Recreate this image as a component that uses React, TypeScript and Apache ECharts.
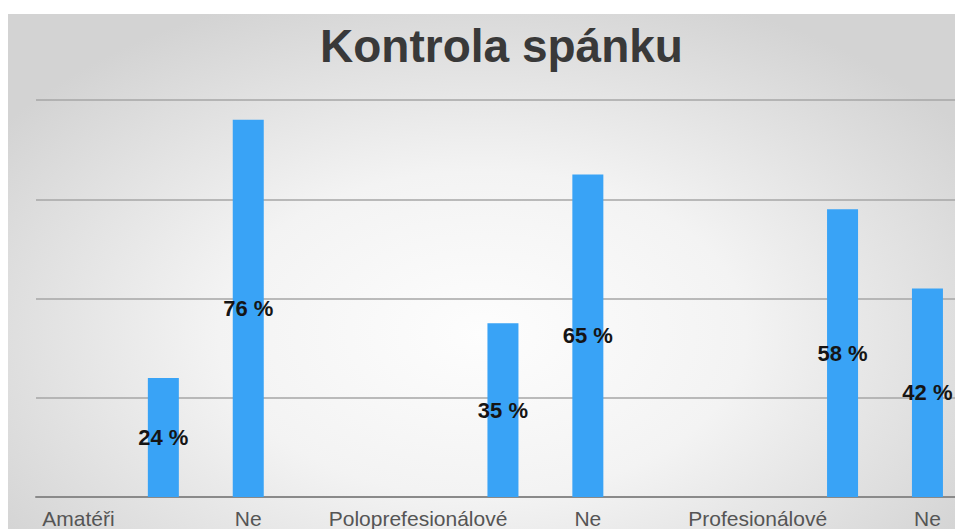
import React, { useEffect, useRef } from "react";
import * as echarts from "echarts";

const title = "Kontrola spánku";
const groups = ["Amatéři", "Poloprefesionálové", "Profesionálové"];
const noLabel = "Ne";
const yesValues = [24, 35, 58];
const noValues = [76, 65, 42];
const yTicks = [0, 20, 40, 60, 80];

// each group occupies four slots: name, yes bar, no bar (labelled "Ne"), empty
const SLOTS = 4;
const slotCategories: string[] = [];
const yesData: (number | string)[] = [];
const noData: (number | string)[] = [];
groups.forEach((g, i) => {
  slotCategories.push(g, `${g}-ano`, `${g}-ne`, `${g}-gap`);
  yesData.push("-", yesValues[i], "-", "-");
  noData.push("-", "-", noValues[i], "-");
});
const labelFor = (cat: string) => {
  if (groups.includes(cat)) return cat;
  if (cat.endsWith("-ne")) return noLabel;
  return "";
};

export default function App() {
  const ref = useRef<HTMLDivElement>(null);
  useEffect(() => {
    if (!ref.current) return;
    const chart = echarts.init(ref.current, undefined, { renderer: "svg" });
    const barLabel = {
      show: true,
      position: "inside",
      formatter: "{c} %",
      fontFamily: "Liberation Sans, Arial, sans-serif",
      fontSize: 22,
      fontWeight: "bold",
      color: "#151515",
      textBorderWidth: 0,
    };
    chart.setOption({
      animation: false,
      backgroundColor: "transparent",
      title: {
        text: title,
        left: 312,
        top: 9,
        padding: 0,
        textStyle: {
          fontFamily: "Liberation Sans, Arial, sans-serif",
          fontSize: 46,
          fontWeight: "bold",
          color: "#393939",
          lineHeight: 46,
        },
      },
      grid: {
        left: 28,
        top: 86,
        width: SLOTS * groups.length * 84.9,
        height: 397,
        containLabel: false,
        outerBoundsMode: "none",
      },
      xAxis: {
        type: "category",
        data: slotCategories,
        axisTick: { show: false },
        axisLine: { show: true, lineStyle: { color: "#8a8a8a", width: 2 } },
        axisLabel: {
          interval: 0,
          margin: 11,
          formatter: (v: string) => labelFor(v),
          fontFamily: "Liberation Sans, Arial, sans-serif",
          fontSize: 21,
          color: "#555555",
          lineHeight: 21,
        },
        splitLine: { show: false },
      },
      yAxis: {
        type: "value",
        min: yTicks[0],
        max: yTicks[yTicks.length - 1],
        interval: yTicks[1] - yTicks[0],
        axisLabel: { show: false },
        axisLine: { show: false },
        axisTick: { show: false },
        splitLine: { show: true, lineStyle: { color: "#a6a6a6", width: 1.5 } },
      },
      series: [
        {
          type: "bar",
          name: "Ano",
          data: yesData,
          barWidth: 31,
          barGap: "-100%",
          itemStyle: { color: "#39a3f6" },
          label: barLabel,
        },
        {
          type: "bar",
          name: noLabel,
          data: noData,
          barWidth: 31,
          barGap: "-100%",
          itemStyle: { color: "#39a3f6" },
          label: barLabel,
        },
      ],
    });
    return () => chart.dispose();
  }, []);
  return (
    <div
      style={{
        position: "fixed",
        left: 0,
        top: 0,
        width: 955,
        height: 529,
        background: "#ffffff",
        overflow: "hidden",
      }}
    >
      <div
        ref={ref}
        style={{
          position: "absolute",
          left: 8,
          top: 14,
          width: 947,
          height: 515,
          background:
            "radial-gradient(ellipse 62% 70% at 50% 62%, #fdfdfd 0%, #f3f3f3 45%, #d3d3d3 100%)",
        }}
      />
    </div>
  );
}
